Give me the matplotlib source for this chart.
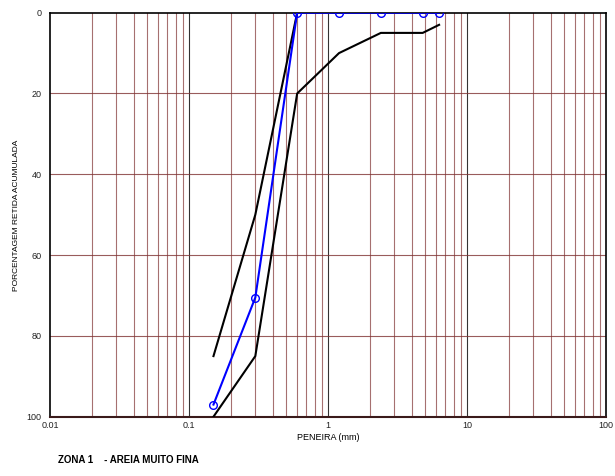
import matplotlib
matplotlib.use("Agg")
import matplotlib.pyplot as plt
import numpy as np

plt.rcParams['font.family'] = ['Liberation Sans', 'DejaVu Sans']

# Data
sieves = [0.15, 0.3, 0.6, 1.2, 2.4, 4.8, 6.3]
sample = [97, 70.5, 0, 0, 0, 0, 0]
upper_sieves = [0.15, 0.3, 0.6, 1.2, 2.4, 4.8, 6.3]
upper_limit = [85, 50, 0, 0, 0, 0, 0]
lower_sieves = [0.15, 0.3, 0.6, 1.2, 2.4, 4.8, 6.3]
lower_limit = [100, 85, 20, 10, 5, 5, 3]
x_ticks = [0.01, 0.1, 1, 10, 100]
x_tick_labels = ['0.01', '0.1', '1', '10', '100']
y_ticks = [0, 20, 40, 60, 80, 100]

fig = plt.figure(figsize=(6.15, 4.76), dpi=100)
ax = fig.add_axes([50/615, 1-416.7/476, (606-50)/615, (416.7-12.7)/476])
ax.set_xscale('log')
ax.set_xlim(0.01, 100)
ax.set_ylim(100, 0)

maroon = '#803333'
# minor vertical grid
for d in [0.01, 0.1, 1, 10]:
    for m in range(2, 10):
        ax.axvline(d*m, color=maroon, lw=0.8, alpha=0.7, zorder=1)
for d in [0.1, 1, 10]:
    ax.axvline(d, color='black', lw=0.8, alpha=0.8, zorder=1)
for yv in [20, 40, 60, 80]:
    ax.axhline(yv, color=maroon, lw=0.8, alpha=0.8, zorder=1)

ax.plot(upper_sieves, upper_limit, color='black', lw=1.5, zorder=3)
ax.plot(lower_sieves, lower_limit, color='black', lw=1.5, zorder=3)
ax.plot(sieves, sample, color='#0000ff', lw=1.5, marker='o', ms=5.5,
        mfc='none', mec='#0000ff', mew=1.0, zorder=4, clip_on=True)

ax.set_xticks(x_ticks)
ax.set_xticklabels(x_tick_labels)
ax.xaxis.set_minor_locator(matplotlib.ticker.NullLocator())
ax.set_yticks(y_ticks)
ax.tick_params(axis='both', length=0, labelsize=6.5, colors='#222222')
ax.tick_params(axis='x', pad=3)
ax.tick_params(axis='y', pad=6)

for s in ['top', 'left', 'right']:
    ax.spines[s].set_color('black')
    ax.spines[s].set_linewidth(1.2)
ax.spines['bottom'].set_color('#3a1a1a')
ax.spines['bottom'].set_linewidth(1.5)

ax.set_xlabel('PENEIRA (mm)', fontsize=6.5, labelpad=2)
fig.text(17/615, 1-215/476, 'PORCENTAGEM RETIDA ACUMULADA', rotation=90,
         fontsize=6, ha='center', va='center')
fig.text(58/615, 1-460/476, 'ZONA 1    - AREIA MUITO FINA', fontsize=7,
         fontweight='bold', ha='left', va='center')

fig.savefig('out.png', dpi=100)
